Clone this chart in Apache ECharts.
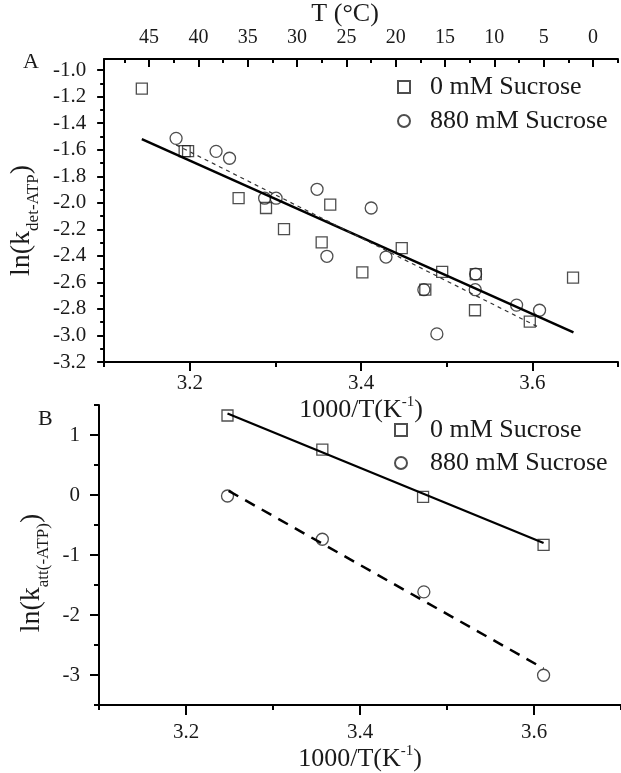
<!DOCTYPE html>
<html>
<head>
<meta charset="utf-8">
<script src="https://cdn.jsdelivr.net/npm/echarts@6/dist/echarts.min.js"></script>
<style>
html,body{margin:0;padding:0;background:#fff;}
#chart{width:621px;height:773px;}
</style>
</head>
<body>
<div id="chart"></div>
<script>
// ---------- DATA ----------
// Panel A: ln(k_det-ATP) vs 1000/T
const seriesNames = ['0 mM Sucrose', '880 mM Sucrose'];
const a0mM = [[3.144,-1.139],[3.194,-1.61],[3.198,-1.61],[3.257,-1.965],[3.289,-2.039],[3.310,-2.199],
  [3.354,-2.298],[3.364,-2.014],[3.4015,-2.525],[3.4475,-2.342],[3.475,-2.655],[3.4947,-2.52],
  [3.534,-2.537],[3.533,-2.81],[3.597,-2.895],[3.6475,-2.564]];
const a880mM = [[3.184,-1.514],[3.2307,-1.612],[3.2464,-1.664],[3.2874,-1.965],[3.3008,-1.965],
  [3.3486,-1.898],[3.3601,-2.403],[3.4118,-2.039],[3.4291,-2.409],[3.4733,-2.655],[3.4885,-2.988],
  [3.5337,-2.537],[3.5333,-2.655],[3.5816,-2.771],[3.6084,-2.81]];
const aFit0mM = [[3.144,-1.52],[3.648,-2.976]];
const aFit880mM = [[3.184,-1.563],[3.608,-2.94]];
// Panel B: ln(k_att(-ATP)) vs 1000/T
const b0mM = [[3.2477,1.325],[3.3567,0.757],[3.4725,-0.03],[3.611,-0.83]];
const b880mM = [[3.2477,-0.016],[3.3567,-0.737],[3.4734,-1.613],[3.611,-3.003]];
const bFit0mM = [[3.2477,1.36],[3.611,-0.80]];
const bFit880mM = [[3.249,0.07],[3.611,-2.89]];
// Tick values / labels
const xMajorTicks = [3.2, 3.4, 3.6];
const xMinorTicks = [3.1, 3.3, 3.5, 3.7];
const tMajorTicks = [45, 40, 35, 30, 25, 20, 15, 10, 5, 0];
const tMinorTicks = [47.5, 42.5, 37.5, 32.5, 27.5, 22.5, 17.5, 12.5, 7.5, 2.5, -2.5];
const yAMajorTicks = [-3.2,-3.0,-2.8,-2.6,-2.4,-2.2,-2.0,-1.8,-1.6,-1.4,-1.2,-1.0];
const yAMinorTicks = [-3.1,-2.9,-2.7,-2.5,-2.3,-2.1,-1.9,-1.7,-1.5,-1.3,-1.1];
const yBMajorTicks = [-3, -2, -1, 0, 1];
const yBMinorTicks = [-3.5, -2.5, -1.5, -0.5, 0.5, 1.5];

// ---------- STYLE ----------
const FONT = "'Liberation Serif', 'DejaVu Serif', serif";
const INK = '#1a1a1a';
const lineAxis = {show: true, onZero: false, lineStyle: {color: '#000', width: 2}};
const noLine = {show: false, onZero: false};
const lbl = (vals, fmt, size, margin) => ({show: true, customValues: vals, formatter: fmt,
  fontFamily: FONT, fontSize: size, color: INK, margin: margin});
const tick = (vals, len, inside) => ({show: true, customValues: vals, length: len, inside: !!inside,
  lineStyle: {color: '#000', width: 2}});
const fmt1 = v => v.toFixed(1);
const fmt0 = v => String(Math.round(v));

const xName = {
  name: '{m|1000/T(K}{p|-1}{m|)}',
  nameLocation: 'middle',
  nameTextStyle: {rich: {
    m: {fontFamily: FONT, fontSize: 26, color: INK, lineHeight: 30},
    p: {fontFamily: FONT, fontSize: 15, color: INK, verticalAlign: 'top', lineHeight: 30}
  }}
};
const legendText = (padLeft) => ({fontFamily: FONT, fontSize: 26, lineHeight: 26, color: INK, padding: [0, 0, 0, padLeft]});

const chart = echarts.init(document.getElementById('chart'), null, {renderer: 'canvas'});
const option = {
  backgroundColor: '#fff',
  animation: false,
  title: [
    {text: 'A', left: 23, top: 51, padding: 0, textStyle: {fontFamily: FONT, fontSize: 22, fontWeight: 'normal', color: INK}},
    {text: 'B', left: 38, top: 408, padding: 0, textStyle: {fontFamily: FONT, fontSize: 22, fontWeight: 'normal', color: INK}}
  ],
  legend: [
    {data: seriesNames, orient: 'vertical', left: 397, top: 74, padding: 0, itemWidth: 12, itemHeight: 12, itemGap: 8,
     selectedMode: false, textStyle: legendText(15)},
    {data: seriesNames, orient: 'vertical', left: 394, top: 417, padding: 0, itemWidth: 12, itemHeight: 12, itemGap: 7,
     selectedMode: false, textStyle: legendText(18)}
  ],
  grid: [
    {left: 96, right: 3, top: 53, bottom: 411, containLabel: false},
    {left: 99, right: -3, top: 405, bottom: 59, containLabel: false}
  ],
  xAxis: [
    Object.assign({gridIndex: 0, type: 'value', position: 'bottom', min: 3.1, max: 3.7,
      axisLine: lineAxis, axisTick: tick(xMajorTicks, 9), axisLabel: lbl(xMajorTicks, fmt1, 21, 11),
      splitLine: {show: false}, nameGap: 28}, xName),
    {gridIndex: 0, type: 'value', position: 'bottom', min: 3.1, max: 3.7,
      axisLine: noLine, axisTick: tick(xMinorTicks, 5), axisLabel: {show: false}, splitLine: {show: false}},
    {gridIndex: 0, type: 'value', position: 'top', inverse: true, min: -2.54, max: 49.56,
      axisLine: lineAxis, axisTick: tick(tMajorTicks, 8, true), axisLabel: lbl(tMajorTicks, fmt0, 20, 11),
      splitLine: {show: false},
      name: 'T (°C)', nameLocation: 'middle', nameGap: 12,
      nameTextStyle: {fontFamily: FONT, fontSize: 26, color: INK, padding: [0, 32, 0, 0]}},
    {gridIndex: 0, type: 'value', position: 'top', inverse: true, min: -2.54, max: 49.56,
      axisLine: noLine, axisTick: tick(tMinorTicks, 4, true), axisLabel: {show: false}, splitLine: {show: false}},
    Object.assign({gridIndex: 1, type: 'value', position: 'bottom', min: 3.1, max: 3.7,
      axisLine: lineAxis, axisTick: tick(xMajorTicks, 10), axisLabel: lbl(xMajorTicks, fmt1, 21, 17),
      splitLine: {show: false}, nameGap: 36}, xName),
    {gridIndex: 1, type: 'value', position: 'bottom', min: 3.1, max: 3.7,
      axisLine: noLine, axisTick: tick(xMinorTicks, 5), axisLabel: {show: false}, splitLine: {show: false}}
  ],
  yAxis: [
    {gridIndex: 0, type: 'value', position: 'left', min: -3.2, max: -0.915,
      axisLine: lineAxis, axisTick: tick(yAMajorTicks, 7), axisLabel: lbl(yAMajorTicks, fmt1, 21, 18),
      splitLine: {show: false},
      name: '{m|ln(k}{s|det-ATP}{m|)}', nameLocation: 'middle', nameRotate: 90, nameGap: 52,
      nameTextStyle: {padding: [0, 20, 0, 0], rich: {
        m: {fontFamily: FONT, fontSize: 28, color: INK, lineHeight: 40},
        s: {fontFamily: FONT, fontSize: 17, color: INK, verticalAlign: 'bottom', lineHeight: 40}
      }}},
    {gridIndex: 0, type: 'value', position: 'left', min: -3.2, max: -0.915,
      axisLine: noLine, axisTick: tick(yAMinorTicks, 4), axisLabel: {show: false}, splitLine: {show: false}},
    {gridIndex: 1, type: 'value', position: 'left', min: -3.5, max: 1.5,
      axisLine: lineAxis, axisTick: tick(yBMajorTicks, 9), axisLabel: lbl(yBMajorTicks, fmt0, 21, 19),
      splitLine: {show: false},
      name: '{m|ln(k}{s|att(-ATP)}{m|)}', nameLocation: 'middle', nameRotate: 90, nameGap: 38,
      nameTextStyle: {padding: [0, 36, 0, 0], rich: {
        m: {fontFamily: FONT, fontSize: 28, color: INK, lineHeight: 40},
        s: {fontFamily: FONT, fontSize: 17, color: INK, verticalAlign: 'bottom', lineHeight: 40}
      }}},
    {gridIndex: 1, type: 'value', position: 'left', min: -3.5, max: 1.5,
      axisLine: noLine, axisTick: tick(yBMinorTicks, 5), axisLabel: {show: false}, splitLine: {show: false}}
  ],
  series: [
    {name: 'fitA0', type: 'line', xAxisIndex: 0, yAxisIndex: 0, data: aFit0mM, showSymbol: false, silent: true,
      lineStyle: {color: '#000', width: 2.5}},
    {name: 'fitA880', type: 'line', xAxisIndex: 0, yAxisIndex: 0, data: aFit880mM, showSymbol: false, silent: true,
      lineStyle: {color: '#333', width: 1.2, type: [4, 4]}},
    {name: seriesNames[0], type: 'scatter', xAxisIndex: 0, yAxisIndex: 0, data: a0mM, symbol: 'rect', symbolSize: 11,
      itemStyle: {color: 'rgba(255,255,255,0)', borderColor: '#222', borderWidth: 1.3}},
    {name: seriesNames[1], type: 'scatter', xAxisIndex: 0, yAxisIndex: 0, data: a880mM, symbol: 'circle', symbolSize: 12,
      itemStyle: {color: 'rgba(255,255,255,0)', borderColor: '#222', borderWidth: 1.3}},
    {name: 'fitB0', type: 'line', xAxisIndex: 4, yAxisIndex: 2, data: bFit0mM, showSymbol: false, silent: true,
      lineStyle: {color: '#000', width: 2.2}},
    {name: 'fitB880', type: 'line', xAxisIndex: 4, yAxisIndex: 2, data: bFit880mM, showSymbol: false, silent: true,
      lineStyle: {color: '#000', width: 2.5, type: [11, 8]}},
    {name: seriesNames[0], type: 'scatter', xAxisIndex: 4, yAxisIndex: 2, data: b0mM, symbol: 'rect', symbolSize: 11,
      itemStyle: {color: 'rgba(255,255,255,0)', borderColor: '#222', borderWidth: 1.3}},
    {name: seriesNames[1], type: 'scatter', xAxisIndex: 4, yAxisIndex: 2, data: b880mM, symbol: 'circle', symbolSize: 12,
      itemStyle: {color: 'rgba(255,255,255,0)', borderColor: '#222', borderWidth: 1.3}}
  ]
};
chart.setOption(option);
</script>
</body>
</html>
